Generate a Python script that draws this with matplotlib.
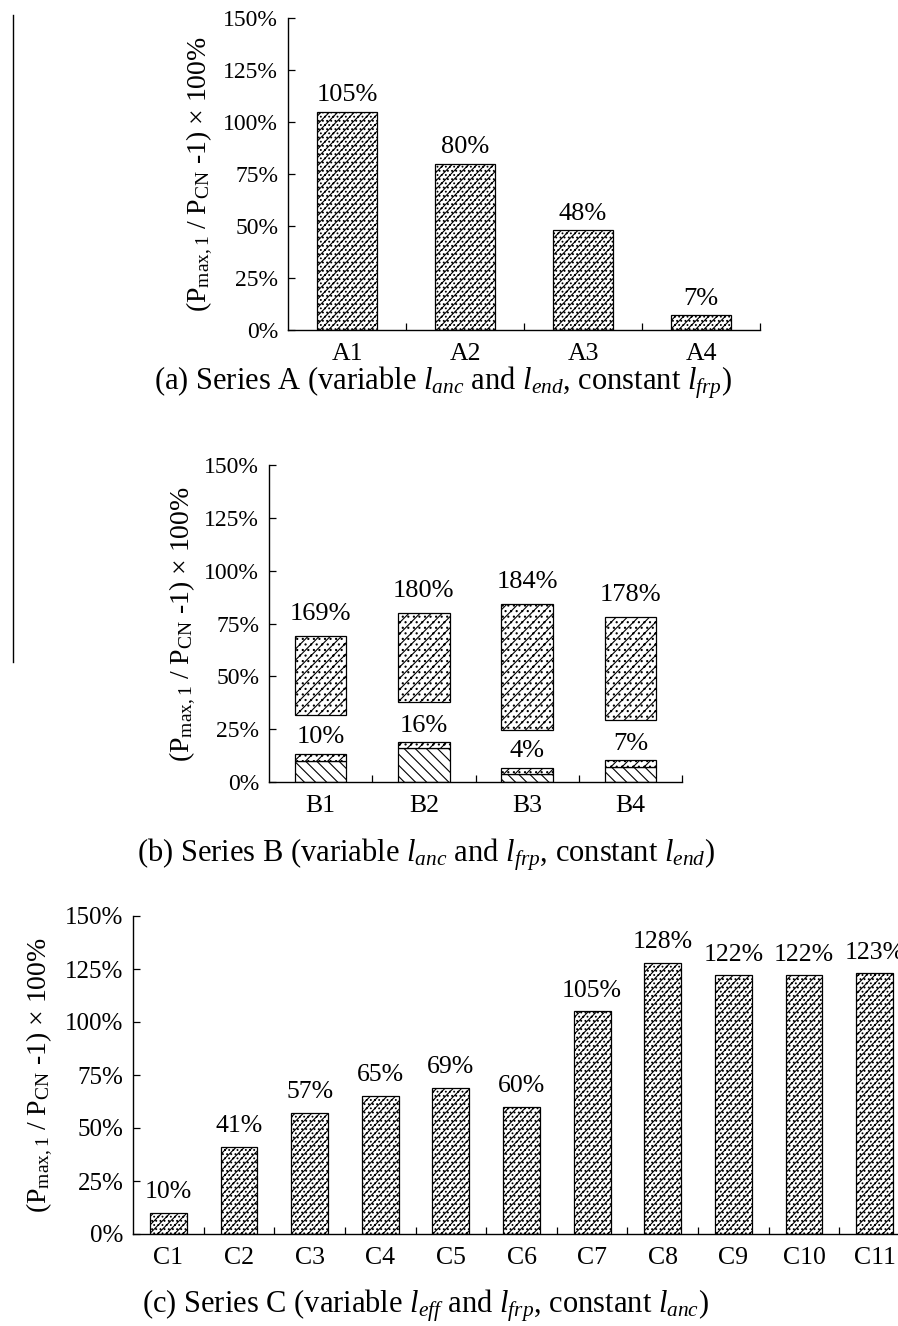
import matplotlib
matplotlib.use('Agg')
import matplotlib.pyplot as plt
from matplotlib.ticker import FixedLocator, PercentFormatter
from matplotlib.lines import Line2D
import numpy as np

plt.rcParams['font.family'] = ['Liberation Serif', 'DejaVu Serif']
plt.rcParams['mathtext.fontset'] = 'custom'
plt.rcParams['mathtext.rm'] = 'Liberation Serif'
plt.rcParams['mathtext.it'] = 'Liberation Serif:italic'
plt.rcParams['hatch.color'] = 'black'
plt.rcParams['hatch.linewidth'] = 0.8

# Series A
a_labels = ['A1', 'A2', 'A3', 'A4']
a_vals = [105, 80, 48, 7]

# Series B: first peak gain and second peak gain (second drawn on a scale broken at 100%)
b_labels = ['B1', 'B2', 'B3', 'B4']
b_low = [10, 16, 4, 7]
b_low_cap = [13.4, 18.9, 6.6, 10.2]
b_high = [169, 180, 184, 178]
b_high_base = [31.5, 37.7, 24.7, 29.2]
b_offset = 100

# Series C
c_labels = ['C1', 'C2', 'C3', 'C4', 'C5', 'C6', 'C7', 'C8', 'C9', 'C10', 'C11']
c_vals = [10, 41, 57, 65, 69, 60, 105, 128, 122, 122, 123]

y_ticks = [0, 25, 50, 75, 100, 125, 150]
ylabel = r'(P$_{\mathrm{max,1}}$ / P$_{\mathrm{CN}}$ -1) $\times$ 100%'
cap_a = r'(a) Series A (variable $l_{anc}$ and $l_{end}$, constant $l_{frp}$)'
cap_b = r'(b) Series B (variable $l_{anc}$ and $l_{frp}$, constant $l_{end}$)'
cap_c = r'(c) Series C (variable $l_{eff}$ and $l_{frp}$, constant $l_{anc}$)'

W, H = 898, 1326
fig = plt.figure(figsize=(W / 100, H / 100), dpi=100)


def addAxes(left, right, top, bottom):
    # pixel box -> figure fraction
    return fig.add_axes([left / W, 1 - bottom / H, (right - left) / W, (bottom - top) / H])


def styleAxis(ax, labels, fs, xfs):
    n = len(labels)
    ax.set_xlim(-0.5, n - 0.5)
    ax.set_ylim(0, 150)
    ax.set_yticks(y_ticks)
    ax.yaxis.set_major_formatter(PercentFormatter(decimals=0))
    ax.set_xticks(range(n))
    ax.set_xticklabels(labels)
    ax.xaxis.set_minor_locator(FixedLocator(np.arange(0.5, n, 1)))
    ax.tick_params(axis='x', which='major', length=0, pad=9, labelsize=xfs)
    ax.tick_params(axis='x', which='minor', direction='in', length=5, width=0.9)
    ax.tick_params(axis='y', direction='in', length=5, width=0.9, pad=7, labelsize=fs)
    for s in ['top', 'right']:
        ax.spines[s].set_visible(False)
    for s in ['left', 'bottom']:
        ax.spines[s].set_linewidth(1.0)


def label(ax, x, y, txt, fs, off=4):
    ax.annotate(txt, (x, y), xytext=(0, off), textcoords='offset points',
                ha='center', va='bottom', fontsize=fs)


def figText(x, y, txt, fs, **kw):
    fig.text(x / W, 1 - y / H, txt, fontsize=fs, ha='center', va='center', **kw)


# (a)
ax = addAxes(288, 760, 18, 330)
styleAxis(ax, a_labels, 17, 18.5)
xa = np.arange(len(a_vals))
ax.bar(xa, a_vals, width=0.51, color='white', edgecolor='black', linewidth=0.9, hatch='////....')
for x, v in zip(xa, a_vals):
    label(ax, x, v, f'{v}%', 19)
figText(200, 174, ylabel, 20, rotation=90)
figText(443, 383, cap_a, 22)

# (b)
ax = addAxes(269, 682, 465, 782)
styleAxis(ax, b_labels, 17, 18.5)
xb = np.arange(len(b_low))
low = np.array(b_low)
cap = np.array(b_low_cap)
top = np.array(b_high) - b_offset
base = np.array(b_high_base)
ax.bar(xb, low, width=0.5, color='white', edgecolor='black', linewidth=0.9, hatch='\\\\\\')
ax.bar(xb, cap - low, bottom=low, width=0.5, color='white', edgecolor='black', linewidth=0.9, hatch='///...')
ax.bar(xb, top - base, bottom=base, width=0.5, color='white', edgecolor='black', linewidth=0.9, hatch='///...')
for x, c, v in zip(xb, cap, b_low):
    label(ax, x, c, f'{v}%', 19)
for x, t, v in zip(xb, top, b_high):
    label(ax, x, t, f'{v}%', 19, off=8)
figText(183, 624, ylabel, 20, rotation=90)
figText(426, 855, cap_b, 22)

# (c)
ax = addAxes(133, 910, 916, 1234)
styleAxis(ax, c_labels, 18, 18.5)
xc = np.arange(len(c_vals))
ax.bar(xc, c_vals, width=0.52, color='white', edgecolor='black', linewidth=0.9, hatch='////....')
for x, v in zip(xc, c_vals):
    label(ax, x, v, f'{v}%', 18.5, off=7)
figText(40, 1075, ylabel, 20, rotation=90)
figText(425, 1306, cap_c, 22)

# thin rule at the left margin
fig.add_artist(Line2D([13 / W, 13 / W], [1 - 15 / H, 1 - 662 / H], color='black', linewidth=1.0))

fig.savefig('out.png', dpi=100)
